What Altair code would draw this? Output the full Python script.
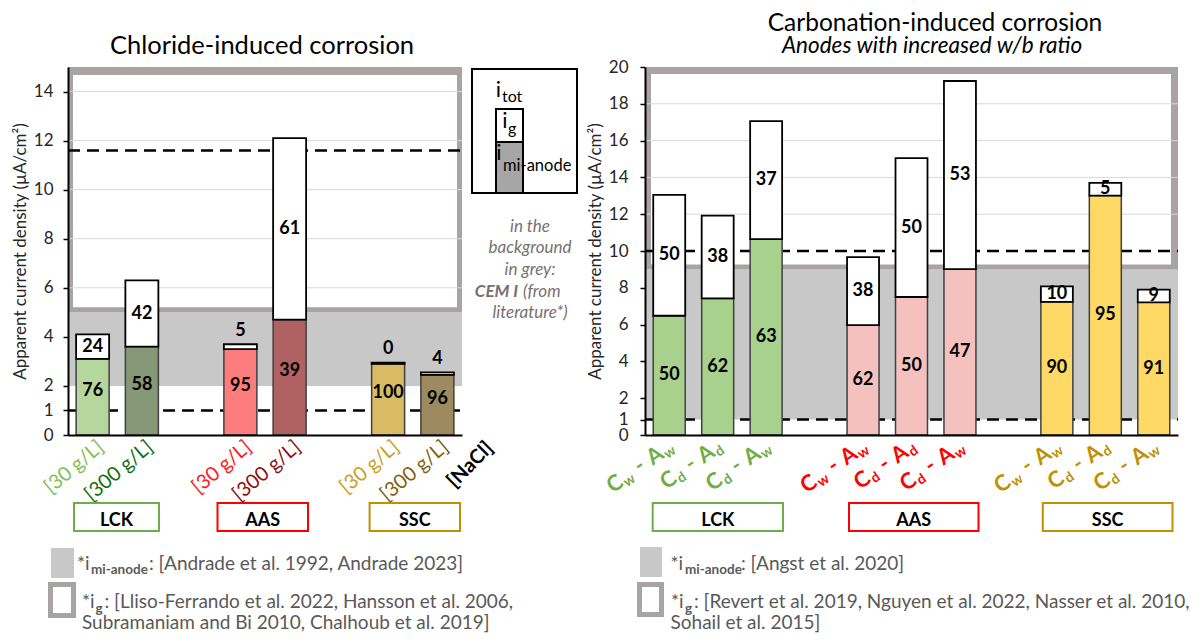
import altair as alt
import pandas as pd

FONT = "Lato"

# ---------------- data: chloride-induced corrosion (left panel) ----------------
cl_slots = ["LCK30", "LCK300", "gap1", "AAS30", "AAS300", "gap2", "SSC30", "SSC300"]
cl_cats = ["LCK30", "LCK300", "AAS30", "AAS300", "SSC30", "SSC300"]
cl_labels = ["[30 g/L]", "[300 g/L]", "[30 g/L]", "[300 g/L]", "[30 g/L]", "[300 g/L]"]
cl_total = [4.1, 6.3, 3.7, 12.1, 2.95, 2.55]
cl_imi = [3.1, 3.6, 3.5, 4.7, 2.9, 2.45]
cl_pct_imi = [76, 58, 95, 39, 100, 96]
cl_pct_ig = [24, 42, 5, 61, 0, 4]
cl_fill = ["#b5d69c", "#869878", "#ff7c7c", "#b06262", "#d8bb63", "#9d8a5e"]
cl_textcol = ["#7fbf55", "#0f700f", "#ff1a1a", "#8b1010", "#c9a020", "#7f6010"]
cl_band = [2, 5]          # CEM I i_mi-anode range (grey)
cl_frame = [5, 15]        # CEM I i_g range (frame)
cl_dashed = [1, 11.6]

# ---------------- data: carbonation-induced corrosion (right panel) ----------------
cb_slots = ["L1", "L2", "L3", "g1", "A1", "A2", "A3", "g2", "S1", "S2", "S3"]
cb_cats = ["L1", "L2", "L3", "A1", "A2", "A3", "S1", "S2", "S3"]
cb_ltype = ["ww", "dd", "dw", "ww", "dd", "dw", "ww", "dd", "dw"]
cb_total = [13.05, 11.92, 17.06, 9.67, 15.05, 19.24, 8.08, 13.7, 7.9]
cb_imi = [6.48, 7.42, 10.65, 5.97, 7.5, 9.02, 7.24, 13.01, 7.21]
cb_pct_imi = [50, 62, 63, 62, 50, 47, 90, 95, 91]
cb_pct_ig = [50, 38, 37, 38, 50, 53, 10, 5, 9]
cb_fill = ["#a9d18e"] * 3 + ["#f4c1bf"] * 3 + ["#ffd966"] * 3
cb_textcol = ["#70ad47"] * 3 + ["#ff0000"] * 3 + ["#bf9000"] * 3
cb_band = [0.84, 9]
cb_frame = [9, 20]
cb_dashed = [0.84, 10]

# ---------------- layout ----------------
W, H = 1110, 368
L_RANGE = [0, 394]
R_RANGE = [577, 1110]
FRAME_GREY = "#a8a4a4"
BAND_GREY = "#c8c8c8"

xL = alt.Scale(domain=cl_slots, range=L_RANGE, paddingInner=0.33, paddingOuter=0.165)
yL = alt.Scale(domain=[0, 15], nice=False)
xR = alt.Scale(domain=cb_slots, range=R_RANGE, paddingInner=0.34, paddingOuter=0.17)
yR = alt.Scale(domain=[0, 20], nice=False)

cl = pd.DataFrame(dict(cat=cl_cats, lab=cl_labels, tot=cl_total, imi=cl_imi,
                       pi=cl_pct_imi, pg=cl_pct_ig, fill=cl_fill, tcol=cl_textcol))
cl["yb"] = cl["imi"] / 2
thin = (cl["tot"] - cl["imi"]) < 0.5
cl["yt"] = (cl["imi"] + cl["tot"]) / 2
cl.loc[thin, "yt"] = cl.loc[thin, "tot"] + 0.55

cb = pd.DataFrame(dict(cat=cb_cats, ltype=cb_ltype, tot=cb_total, imi=cb_imi,
                       pi=cb_pct_imi, pg=cb_pct_ig, fill=cb_fill, tcol=cb_textcol))
cb["yb"] = cb["imi"] / 2
cb["yt"] = (cb["imi"] + cb["tot"]) / 2

ONE = alt.Data(values=[{"k": 1}])


def txt(s, x, y, size=17, color="black", weight="normal", style="normal",
        align="left", baseline="alphabetic", angle=0):
    return alt.Chart(ONE).mark_text(
        text=s, font=FONT, fontSize=size, color=color, fontWeight=weight,
        fontStyle=style, align=align, baseline=baseline, angle=angle
    ).encode(x=alt.value(x), y=alt.value(y))


def box(x1, y1, x2, y2, fill, stroke=None, sw=0):
    kw = dict(fill=fill)
    if stroke:
        kw.update(stroke=stroke, strokeWidth=sw)
    else:
        kw.update(strokeWidth=0)
    return alt.Chart(ONE).mark_rect(**kw).encode(
        x=alt.value(x1), x2=alt.value(x2), y=alt.value(y1), y2=alt.value(y2))


def yaxis(values, offset=0, label_expr=None, lpad=10):
    kw = dict(values=values, title="Apparent current density (µA/cm²)", titleFont=FONT,
              titleFontSize=17, titleFontWeight="normal", titleColor="#262626",
              titlePadding=4, labelFont=FONT, labelFontSize=17, labelColor="#262626",
              labelPadding=lpad, labelOverlap=False, tickSize=5, tickColor="black",
              tickWidth=1.5, domainColor="black", domainWidth=2, grid=False,
              orient="left", zindex=2, offset=offset)
    if label_expr:
        kw["labelExpr"] = label_expr
    return alt.Axis(**kw)


xaxis = alt.Axis(labels=False, ticks=False, title=None, domainColor="black",
                 domainWidth=2, grid=False, orient="bottom", zindex=2)

layers = []


def panel(df, band, frame, dashed, grid_vals, xs, ys, x0, x1, inner, yax, bottom_dy):
    bdf = pd.DataFrame({"lo": [band[0]], "hi": [band[1]]})
    layers.append(alt.Chart(bdf).mark_rect(color=BAND_GREY).encode(
        y=alt.Y("hi:Q", scale=ys, axis=None), y2="lo:Q", x=alt.value(x0), x2=alt.value(x1)))
    fdf = pd.DataFrame({"lo": [frame[0]], "hi": [frame[1]]})
    layers.append(alt.Chart(fdf).mark_rect(color=FRAME_GREY).encode(
        y=alt.Y("hi:Q", scale=ys, axis=None), y2="lo:Q", x=alt.value(x0), x2=alt.value(x1)))
    idf = pd.DataFrame({"lo": [inner[0]], "hi": [inner[1]]})
    layers.append(alt.Chart(idf).mark_rect(color="white").encode(
        y=alt.Y("hi:Q", scale=ys, axis=None), y2="lo:Q",
        x=alt.value(inner[2]), x2=alt.value(inner[3])))
    gdf = pd.DataFrame({"v": grid_vals})
    layers.append(alt.Chart(gdf).mark_rule(color="#d9d9d9", strokeWidth=1).encode(
        y=alt.Y("v:Q", scale=ys, axis=None), x=alt.value(x0), x2=alt.value(x1)))
    ddf = pd.DataFrame({"v": dashed})
    layers.append(alt.Chart(ddf).mark_rule(color="black", strokeWidth=2.5,
                                           strokeDash=[12, 7]).encode(
        y=alt.Y("v:Q", scale=ys, axis=None), x=alt.value(x0), x2=alt.value(x1)))
    base = alt.Chart(df)
    layers.append(base.mark_bar(stroke="#404040", strokeWidth=1.5).encode(
        x=alt.X("cat:N", scale=xs, axis=xaxis),
        y=alt.Y("imi:Q", scale=ys, axis=yax, stack=None),
        color=alt.Color("fill:N", scale=None)))
    layers.append(base.mark_bar(fill="white", stroke="black", strokeWidth=1.8).encode(
        x=alt.X("cat:N", scale=xs, axis=None),
        y=alt.Y("tot:Q", scale=ys, axis=None, stack=None), y2="imi:Q"))
    layers.append(base.mark_text(font=FONT, fontSize=18, fontWeight="bold", color="black",
                                 baseline="middle", dy=bottom_dy).encode(
        x=alt.X("cat:N", scale=xs, axis=None),
        y=alt.Y("yb:Q", scale=ys, axis=None), text="pi:N"))
    layers.append(base.mark_text(font=FONT, fontSize=18, fontWeight="bold", color="black",
                                 baseline="middle").encode(
        x=alt.X("cat:N", scale=xs, axis=None),
        y=alt.Y("yt:Q", scale=ys, axis=None), text="pg:N"))


# left panel
panel(cl, cl_band, cl_frame, cl_dashed, [6, 8, 10, 12, 14], xL, yL, 0, 394,
      (5 + 5 / 24.53, 15 - 8 / 24.53, 5, 389),
      yaxis([0, 1, 2, 4, 6, 8, 10, 12, 14], 0, None, 10), -6)
# right panel
panel(cb, cb_band, cb_frame, cb_dashed, [12, 14, 16, 18], xR, yR, 577, 1110,
      (9 + 5 / 18.4, 20 - 7 / 18.4, 583, 1103),
      yaxis([0, 0.84, 2, 4, 6, 8, 10, 12, 14, 16, 18, 20], -577,
            "datum.value > 0.5 && datum.value < 1 ? '1' : datum.label", 12), 0)

# left category labels
layers.append(alt.Chart(cl).mark_text(font=FONT, fontSize=20, angle=320, align="right",
                                      baseline="top", xOffset=2).encode(
    x=alt.X("cat:N", scale=xL, axis=None), y=alt.value(H + 2), text="lab:N",
    color=alt.Color("tcol:N", scale=None)))
layers.append(txt("[NaCl]", 415, H + 3, 20, "black", "bold", align="right",
                  baseline="top", angle=315))

# right category labels  C_x - A_y (built from pieces along the rotated baseline)
W_EM = {"C": 0.64, "A": 0.68, "w": 0.80, "d": 0.58, "-": 0.37}
BIG, SUB = 22, 14
for t, (s1, s2) in {"ww": ("w", "w"), "dd": ("d", "d"), "dw": ("d", "w")}.items():
    dx = 0.0
    comps = [(s2, SUB, dx, 3)]
    dx -= W_EM[s2] * SUB + 1
    comps.append(("A", BIG, dx, 0))
    dx -= W_EM["A"] * BIG + 7
    comps.append(("-", BIG, dx, -1))
    dx -= W_EM["-"] * BIG + 7
    comps.append((s1, SUB, dx, 3))
    dx -= W_EM[s1] * SUB + 1
    comps.append(("C", BIG, dx, 0))
    for s, size, ddx, ddy in comps:
        layers.append(alt.Chart(cb).transform_filter(alt.datum.ltype == t).mark_text(
            text=s, font=FONT, fontSize=size, fontWeight="bold", align="right",
            baseline="alphabetic", angle=325, dx=ddx, dy=ddy, xOffset=6).encode(
            x=alt.X("cat:N", scale=xR, axis=None), y=alt.value(H + 15),
            color=alt.Color("tcol:N", scale=None)))

# group boxes
for (x1, x2, name, col) in [(6, 91, "LCK", "#70ad47"), (149.5, 240, "AAS", "#ff0000"),
                            (301.6, 392, "SSC", "#bf9000"),
                            (584.7, 715, "LCK", "#70ad47"), (781, 910.5, "AAS", "#ff0000"),
                            (974.8, 1104.5, "SSC", "#bf9000")]:
    layers.append(box(x1, 436, x2, 464, "white", col, 2))
    layers.append(txt(name, (x1 + x2) / 2, 454, 18, "black", "bold", align="center",
                      baseline="middle"))

# titles
layers.append(txt("Chloride-induced corrosion", 194, -13, 25.5, align="center"))
layers.append(txt("Carbonation-induced corrosion", 867, -36, 24.5, align="center"))
layers.append(txt("Anodes with increased w/b ratio", 864, -14, 22.5, style="italic",
                  align="center"))

# middle legend
layers.append(box(404, 2, 509, 126, "white", "black", 2))
layers.append(box(428, 42, 455, 75, "white", "black", 2))
layers.append(box(428, 75, 455, 126, "#a6a6a6", "black", 2))
layers.append(txt("i", 430.5, 30, 22, align="center"))
layers.append(txt("tot", 434, 35, 16))
layers.append(txt("i", 437, 61, 22, align="center"))
layers.append(txt("g", 440, 67, 16))
layers.append(txt("i", 431, 93, 22, align="center"))
layers.append(txt("mi-anode", 435, 104, 16.5))
LG = "#767171"
for s, yy in [("in the", 160), ("background", 181), ("in grey:", 203), ("literature*)", 246)]:
    layers.append(txt(s, 462, yy, 17, LG, style="italic", align="center", baseline="middle"))
layers.append(txt("CEM I", 450, 225, 17, LG, "bold", "italic", align="right", baseline="middle"))
layers.append(txt("(from", 455, 225, 17, LG, style="italic", align="left", baseline="middle"))

# footnotes
FN = "#595959"
# left
layers.append(box(-17, 481, 6, 511, BAND_GREY))
layers.append(txt("*i", 9, 503, 19, FN))
layers.append(txt("mi-anode", 23, 507, 13.5, FN, "bold"))
layers.append(txt(": [Andrade et al. 1992, Andrade 2023]", 81, 503, 19, FN))
layers.append(box(-17.5, 517.5, 5.5, 548.5, "white", FRAME_GREY, 5))
layers.append(txt("*i", 14, 541, 19, FN))
layers.append(txt("g", 27.5, 546, 13.5, FN, "bold"))
layers.append(txt(": [Lliso-Ferrando et al. 2022, Hansson et al. 2006,", 36.5, 541, 19, FN))
layers.append(txt("Subramaniam and Bi 2010, Chalhoub et al. 2019]", 14, 562, 19, FN))
# right
layers.append(box(572, 480, 594, 510, BAND_GREY))
layers.append(txt("*i", 602.5, 503, 19, FN))
layers.append(txt("mi-anode", 617, 507, 13.5, FN, "bold"))
layers.append(txt(": [Angst et al. 2020]", 673, 503, 19, FN))
layers.append(box(571.5, 517.5, 593.5, 547.5, "white", FRAME_GREY, 5))
layers.append(txt("*i", 603, 541, 19, FN))
layers.append(txt("g", 617, 546, 13.5, FN, "bold"))
layers.append(txt(": [Revert et al. 2019, Nguyen et al. 2022, Nasser et al. 2010,", 626, 541, 19, FN))
layers.append(txt("Sohail et al. 2015]", 602.5, 562, 19, FN))

chart = alt.layer(*layers).resolve_scale(
    x="independent", y="independent", color="independent"
).properties(
    width=W, height=H,
    autosize=alt.AutoSizeParams(type="none"),
    padding={"left": 60, "top": 59, "right": 16, "bottom": 199},
).configure_view(stroke=None)

chart.save("out.html", embed_options={"renderer": "svg", "actions": False})
